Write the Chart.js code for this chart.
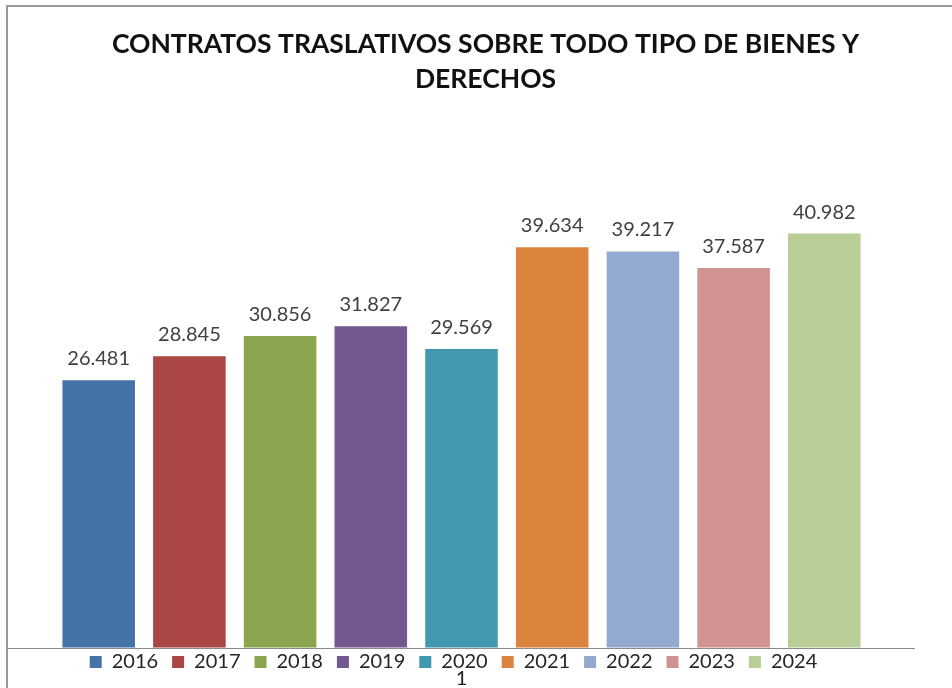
<!DOCTYPE html>
<html lang="es">
<head>
<meta charset="utf-8">
<title>Contratos traslativos</title>
<script src="https://cdn.jsdelivr.net/npm/chart.js@4.4.1/dist/chart.umd.min.js"></script>
<style>
    html, body { margin: 0; padding: 0; background: #fff; }
    #wrap { position: relative; width: 952px; height: 688px; overflow: hidden; }
    #grafico { display: block; }
    /* marco gris del gráfico original (solo borde superior e izquierdo visibles) */
    #marco { position: absolute; left: 6px; top: 5px; right: -20px; bottom: -20px;
             border-left: 2px solid #9a9a9a; border-top: 2px solid #9a9a9a; pointer-events: none; }
</style>
</head>
<body>
<div id="wrap">
    <canvas id="grafico" width="952" height="688"></canvas>
    <div id="marco"></div>
</div>
<script>
// --- DATOS ---
const categorias = ['1'];
const anios = ['2016', '2017', '2018', '2019', '2020', '2021', '2022', '2023', '2024'];
const contratos = [26481, 28845, 30856, 31827, 29569, 39634, 39217, 37587, 40982];
const colores = ['#4572A7', '#AA4643', '#89A54E', '#71588F', '#4198AF', '#DB843D', '#93A9CF', '#D19392', '#B9CD96'];
const titulo = ['CONTRATOS TRASLATIVOS SOBRE TODO TIPO DE BIENES Y', 'DERECHOS'];

const formatMiles = (v) => v.toLocaleString('de-DE');

// etiquetas de valor encima de cada barra
const etiquetasValor = {
    id: 'etiquetasValor',
    afterDatasetsDraw(chart) {
        const ctx = chart.ctx;
        ctx.save();
        ctx.font = '20px Lato';
        ctx.fillStyle = '#404040';
        ctx.textAlign = 'center';
        ctx.textBaseline = 'alphabetic';
        chart.data.datasets.forEach((ds, i) => {
            chart.getDatasetMeta(i).data.forEach((bar, j) => {
                ctx.fillText(formatMiles(ds.data[j]), bar.x, bar.y - 15);
            });
        });
        ctx.restore();
    }
};

// ajuste fino: en el original la leyenda queda encima de la etiqueta "1"
// y el título va algo desplazado a la derecha
const ajusteCajas = {
    id: 'ajusteCajas',
    afterLayout(chart) {
        if (chart.legend) {
            chart.legend.top -= 10; chart.legend.bottom -= 10;
            chart.legend.left -= 8; chart.legend.right -= 8;
        }
        if (chart.titleBlock) { chart.titleBlock.left += 24; chart.titleBlock.right += 24; }
    }
};

document.addEventListener('DOMContentLoaded', function() {
    const ctx = document.getElementById('grafico').getContext('2d');
    new Chart(ctx, {
        type: 'bar',
        data: {
            labels: categorias,
            datasets: anios.map((anio, i) => ({
                label: anio,
                data: [contratos[i]],
                backgroundColor: colores[i],
                borderWidth: 0
            }))
        },
        options: {
            responsive: false,
            animation: false,
            categoryPercentage: 0.9,
            barPercentage: 0.8,
            layout: { padding: { left: 8, right: 37, top: 0, bottom: 6 } },
            plugins: {
                title: {
                    display: true,
                    text: titulo,
                    color: '#111',
                    font: { family: 'Lato', size: 26.5, weight: 'bold', lineHeight: 1.32 },
                    padding: { top: 27, bottom: 96 }
                },
                legend: {
                    position: 'bottom',
                    maxHeight: 34,
                    labels: {
                        boxWidth: 12,
                        boxHeight: 12,
                        padding: 14,
                        color: '#262626',
                        font: { family: 'Lato', size: 20 }
                    }
                },
                tooltip: { enabled: false }
            },
            scales: {
                x: {
                    grid: { display: false, drawTicks: false },
                    border: { display: false },
                    // con mirror no se recorta la etiqueta al alto (0) del eje;
                    // el padding negativo la baja por debajo de la leyenda
                    ticks: { mirror: true, padding: -43, color: '#222', font: { family: 'Lato', size: 20 } },
                    afterFit: (scale) => { scale.height = 0; }
                },
                y: {
                    min: 0,
                    max: 45000,
                    ticks: { display: false, stepSize: 5000 },
                    border: { display: false },
                    grid: {
                        drawTicks: false,
                        color: (c) => (c.tick && c.tick.value === 0 ? '#8a8a8a' : 'rgba(0,0,0,0)')
                    }
                }
            }
        },
        plugins: [etiquetasValor, ajusteCajas]
    });
});
</script>
</body>
</html>
